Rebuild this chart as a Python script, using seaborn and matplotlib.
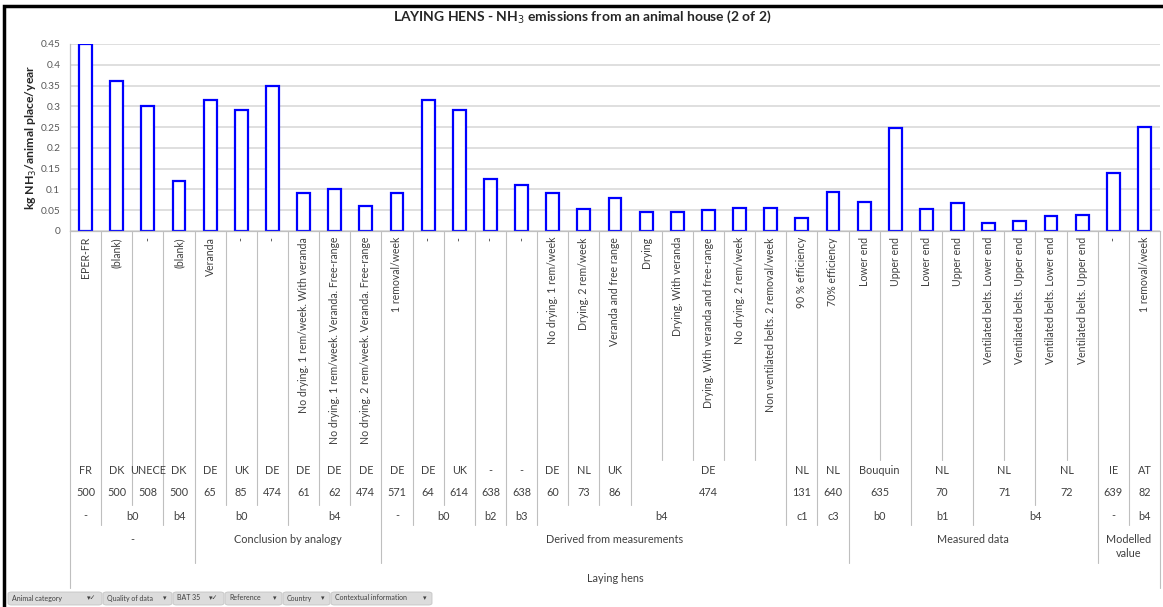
import textwrap
import numpy as np
import pandas as pd
import matplotlib
matplotlib.use('Agg')
import matplotlib.pyplot as plt
import matplotlib.transforms as mtransforms
from matplotlib.patches import Rectangle, FancyBboxPatch
from matplotlib.ticker import FuncFormatter
import seaborn as sns

# ---- data ----
values = [0.45, 0.36, 0.30, 0.12, 0.316, 0.29, 0.349, 0.091, 0.10, 0.061,
          0.091, 0.316, 0.29, 0.124, 0.11, 0.091, 0.053, 0.08, 0.046, 0.046,
          0.051, 0.055, 0.055, 0.031, 0.094, 0.07, 0.249, 0.052, 0.068, 0.019,
          0.024, 0.036, 0.038, 0.139, 0.25]

context = ["EPER-FR", "(blank)", "-", "(blank)", "Veranda", "-", "-",
           "No drying. 1 rem/week. With veranda",
           "No drying. 1 rem/week. Veranda. Free-range",
           "No drying. 2 rem/week. Veranda. Free-range",
           "1 removal/week", "-", "-", "-", "-",
           "No drying. 1 rem/week", "Drying. 2 rem/week", "Veranda and free range",
           "Drying", "Drying. With veranda", "Drying. With veranda and free-range",
           "No drying. 2 rem/week", "Non ventilated belts. 2 removal/week",
           "90 % efficiency", "70% efficiency", "Lower end", "Upper end",
           "Lower end", "Upper end",
           "Ventilated belts. Lower end", "Ventilated belts. Upper end",
           "Ventilated belts. Lower end", "Ventilated belts. Upper end",
           "-", "1 removal/week"]

country = ["FR", "DK", "UNECE", "DK", "DE", "UK", "DE", "DE", "DE", "DE",
           "DE", "DE", "UK", "-", "-", "DE", "NL", "UK",
           "DE", "DE", "DE", "DE", "DE", "NL", "NL", "Bouquin", "Bouquin",
           "NL", "NL", "NL", "NL", "NL", "NL", "IE", "AT"]

reference = ["500", "500", "508", "500", "65", "85", "474", "61", "62", "474",
             "571", "64", "614", "638", "638", "60", "73", "86",
             "474", "474", "474", "474", "474", "131", "640", "635", "635",
             "70", "70", "71", "71", "72", "72", "639", "82"]

bat35 = ["-", "b0", "b0", "b4", "b0", "b0", "b0", "b4", "b4", "b4",
         "-", "b0", "b0", "b2", "b3", "b4", "b4", "b4",
         "b4", "b4", "b4", "b4", "b4", "c1", "c3", "b0", "b0",
         "b1", "b1", "b4", "b4", "b4", "b4", "-", "b4"]

quality = (["-"] * 4 + ["Conclusion by analogy"] * 6 +
           ["Derived from measurements"] * 15 + ["Measured data"] * 8 +
           ["Modelled value"] * 2)

animal = ["Laying hens"] * 35

pivot_fields = ["Animal category", "Quality of data", "BAT 35",
                "Reference", "Country", "Contextual information"]
pivot_filtered = [True, False, True, False, False, False]

df = pd.DataFrame({"idx": np.arange(len(values)), "value": values})

# ---- style ----
sns.set_style("white")
plt.rcParams['font.family'] = ['Lato', 'DejaVu Sans']

W, H = 1163, 607
fig = plt.figure(figsize=(W / 100, H / 100), dpi=100)
ax = fig.add_axes([70 / W, 1 - 231 / H, (1160 - 70) / W, (231 - 44) / H])

sns.barplot(data=df, x="idx", y="value", ax=ax, color="white",
            edgecolor="#0000FF", linewidth=1.6, width=0.41, saturation=1)

ax.set_xlim(-0.5, len(values) - 0.5)
ax.set_ylim(0, 0.45)
ax.set_yticks(np.arange(0, 0.451, 0.05))
ax.yaxis.set_major_formatter(FuncFormatter(lambda v, p: f"{round(v, 2):g}"))
ax.tick_params(axis='y', labelsize=7.3, labelcolor="#595959", color="#BFBFBF",
               length=3, width=0.8, direction='out', pad=4)
ax.set_xticks([])
ax.set_xlabel("")
ax.set_ylabel("")
ax.grid(axis='y', color="#D9D9D9", linewidth=1.2)
ax.set_axisbelow(True)
for s in ["top", "right"]:
    ax.spines[s].set_visible(False)
for s in ["left", "bottom"]:
    ax.spines[s].set_color("#BFBFBF")
    ax.spines[s].set_linewidth(0.9)

# ---- multi-level category axis ----
tr = mtransforms.blended_transform_factory(ax.transData, fig.transFigure)


def fy(px):
    return 1 - px / H


txt_col = "#404040"
line_col = "#BFBFBF"

# contextual labels (rotated)
for i, lab in enumerate(context):
    ax.text(i, fy(237), lab, transform=tr, rotation=90, ha='center', va='top',
            fontsize=7.6, color=txt_col)

# hierarchy from outer to inner
levels = [animal, quality, bat35, reference, country, context]
level_bottom = [588, 563, 525, 505, 505, 460]

n = len(values)
for k in range(n + 1):
    if k == 0 or k == n:
        bottom = level_bottom[0]
    else:
        bottom = level_bottom[-1]
        for li, lev in enumerate(levels):
            if any(levels[j][k - 1] != levels[j][k] for j in range(li + 1)):
                bottom = level_bottom[li]
                break
    ax.plot([k - 0.5, k - 0.5], [fy(231), fy(bottom)], transform=tr,
            color=line_col, lw=0.8, clip_on=False)


def groups(depth):
    # consecutive runs with the same prefix of the hierarchy
    out = []
    start = 0
    for i in range(1, n + 1):
        if i == n or any(levels[j][i] != levels[j][start] for j in range(depth + 1)):
            out.append((start, i - 1, levels[depth][start]))
            start = i
    return out


row_y = {4: 471, 3: 493, 2: 516, 1: 534, 0: 578}
for depth in [4, 3, 2, 1, 0]:
    for a, b, lab in groups(depth):
        span = b - a + 1
        txt = textwrap.fill(lab, width=max(6, span * 6))
        va = 'top' if depth == 1 else 'center'
        ax.text((a + b) / 2, fy(row_y[depth]), txt, transform=tr, ha='center',
                va=va, fontsize=7.8, color=txt_col, linespacing=1.3)

# ---- titles ----
fig.text(582 / W, fy(17), r"LAYING HENS - NH$_3$ emissions from an animal house (2 of 2)",
         ha='center', va='center', fontsize=10, fontweight='bold')
fig.text(31 / W, fy(137), r"kg NH$_3$/animal place/year", rotation=90,
         ha='center', va='center', fontsize=8.8, fontweight='bold')

# ---- frame (cropped chart border) ----
fig.patches.append(Rectangle((4 / W, -0.1), 1.2, 1.1 - 6 / H, transform=fig.transFigure,
                             facecolor='none', edgecolor='black', lw=2.5))

# ---- pivot field buttons ----
btn_edges = [(8, 102), (103, 172), (173, 224), (225, 282), (283, 330), (331, 432)]
for (x0, x1), name, filt in zip(btn_edges, pivot_fields, pivot_filtered):
    fig.patches.append(FancyBboxPatch((x0 / W, fy(605)), (x1 - x0) / W, 13 / H,
                                      boxstyle="round,pad=0,rounding_size=0.003",
                                      transform=fig.transFigure, facecolor="#DCDCDC",
                                      edgecolor="#C4C4C4", lw=0.6))
    fig.text((x0 + 4) / W, fy(598), name, ha='left', va='center', fontsize=5,
             color="#404040")
    icon = "\u25be\u2713" if filt else "\u25be"
    fig.text((x1 - 6) / W, fy(598), icon, ha='right', va='center', fontsize=5,
             color="#404040")

fig.savefig("out.png", dpi=100)
